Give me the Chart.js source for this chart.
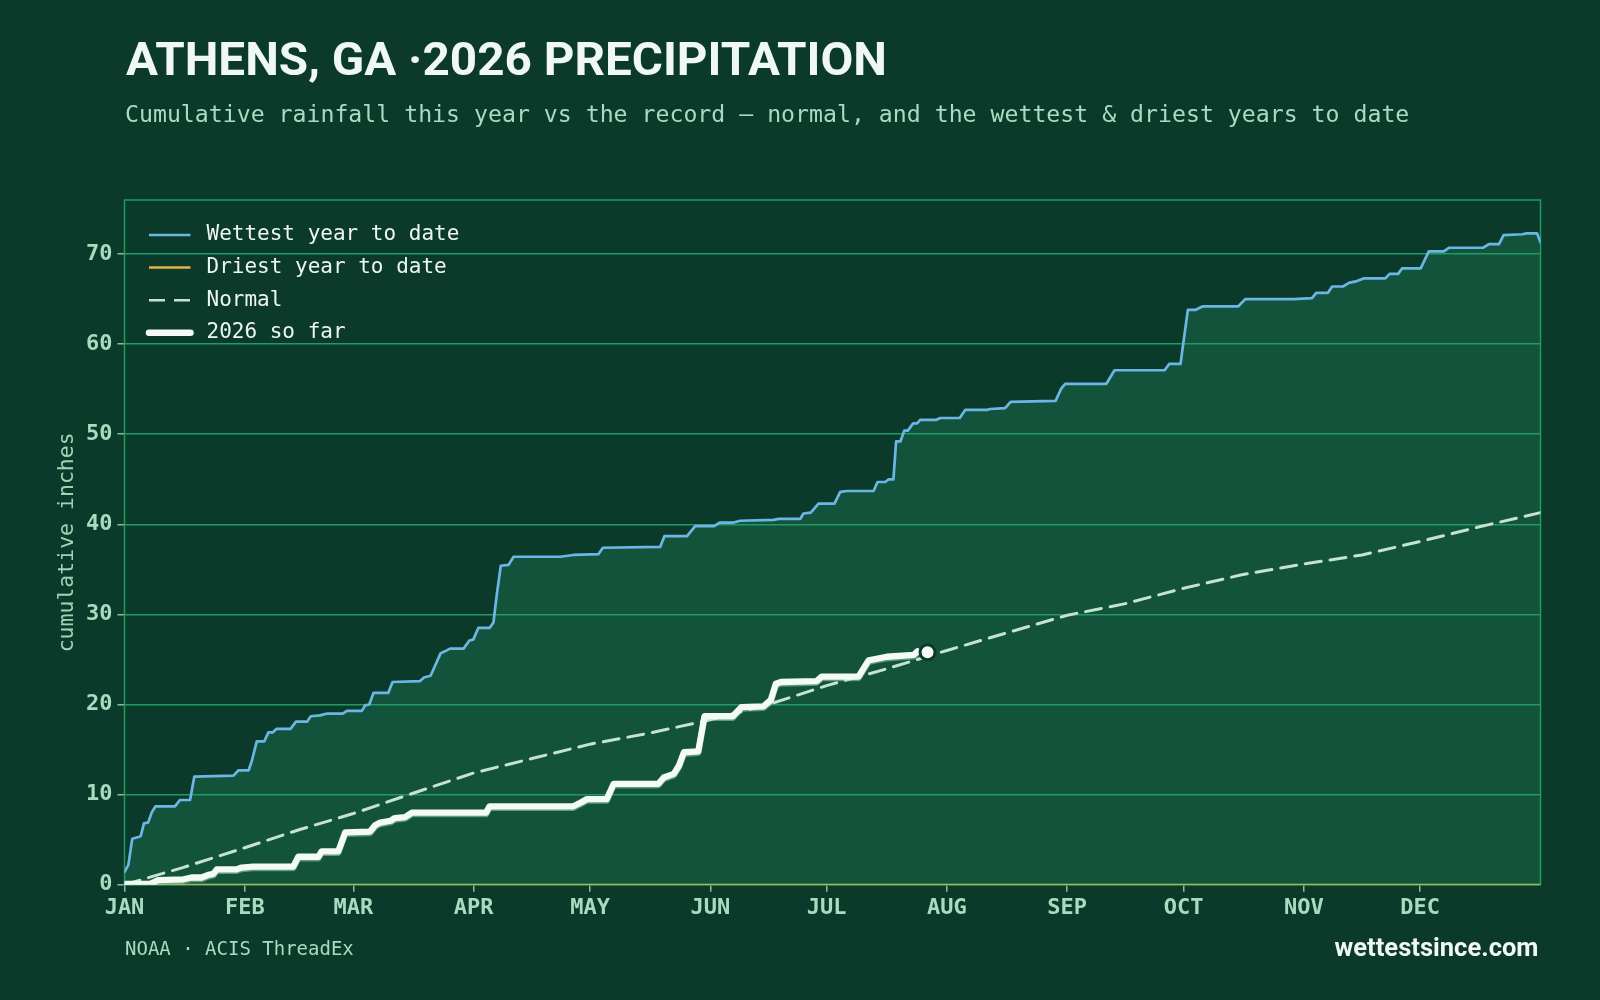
<!DOCTYPE html>
<html>
<head>
<meta charset="utf-8">
<title>Athens, GA 2026 precipitation</title>
<script src="https://cdn.jsdelivr.net/npm/chart.js@4.4.1/dist/chart.umd.min.js"></script>
<style>
  html, body { margin: 0; padding: 0; background: #0c3a2a; }
  #wrap { position: relative; width: 1600px; height: 1000px; }
</style>
</head>
<body>
<div id="wrap"><canvas id="chart" width="1600" height="1000"></canvas></div>

<script>
// ---- data (day of year from Jan 1, cumulative inches) ----
var monthStartDays = [0, 31, 59, 90, 120, 151, 181, 212, 243, 273, 304, 334];
var monthLabels = ["JAN", "FEB", "MAR", "APR", "MAY", "JUN", "JUL", "AUG", "SEP", "OCT", "NOV", "DEC"];

var wettestDays = [0, 1, 2, 3.6, 4.2, 5, 6.1, 7, 8, 13, 14.3, 16.9, 18, 28.1, 29.4, 32, 32.8, 34.1, 36, 37.1,
  38.2, 39.2, 42.8, 44.2, 47.1, 48, 50.4, 52.3, 56.3, 57.3, 61.2, 62, 63.1, 64.2, 68, 69.1, 76.2, 77.2, 78.9,
  81.5, 82.6, 83.9, 87.4, 88.9, 89.9, 91.2, 94.1, 95.1, 96, 97, 99, 100.3, 112.3, 115.7, 122.2, 123.3, 138.1,
  139.2, 145, 147.1, 152, 153.4, 157, 158.7, 167.3, 168.6, 174.2, 175, 176.9, 178.9, 183, 184.5, 186.2, 193.1,
  194.1, 196.1, 197, 198.2, 198.9, 200, 201, 201.9, 203.3, 204.3, 205.1, 209.3, 210.3, 215.3, 216.7, 222.3,
  223.2, 227, 228.4, 240, 241.5, 242.5, 253.1, 255.2, 268.1, 269.3, 272.2, 274.1, 276, 278, 287.1, 288.9,
  301.4, 306.1, 307.2, 310.2, 311.3, 314.1, 315.6, 317.7, 319.4, 325, 326.1, 328.3, 329.3, 334.1, 336.2,
  340.1, 341.4, 350.2, 351.7, 354.3, 355.5, 360.3, 361.4, 364.1, 365];
var wettestInches = [1.4, 2.2, 5.1, 5.3, 5.4, 6.8, 6.9, 8.0, 8.7, 8.7, 9.4, 9.4, 12.0, 12.1, 12.7, 12.7, 13.7, 15.9, 15.9, 16.9,
  16.9, 17.3, 17.3, 18.1, 18.1, 18.7, 18.8, 19.0, 19.0, 19.3, 19.3, 19.9, 20.0, 21.3, 21.3, 22.5, 22.6, 23.0, 23.2,
  25.7, 25.9, 26.2, 26.2, 27.1, 27.2, 28.5, 28.5, 29.1, 32.3, 35.4, 35.5, 36.4, 36.4, 36.6, 36.7, 37.4, 37.5,
  38.7, 38.7, 39.8, 39.8, 40.2, 40.2, 40.4, 40.5, 40.6, 40.6, 41.2, 41.3, 42.3, 42.3, 43.6, 43.7, 43.7,
  44.7, 44.7, 45.0, 45.0, 49.2, 49.2, 50.4, 50.4, 51.2, 51.2, 51.6, 51.6, 51.8, 51.8, 52.7, 52.7,
  52.8, 52.9, 53.6, 53.7, 55.1, 55.6, 55.6, 57.1, 57.1, 57.8, 57.8, 63.8, 63.8, 64.2, 64.2, 65.0,
  65.0, 65.1, 65.7, 65.7, 66.4, 66.4, 66.8, 67.0, 67.3, 67.3, 67.8, 67.8, 68.4, 68.4, 70.3,
  70.3, 70.7, 70.7, 71.1, 71.1, 72.1, 72.2, 72.3, 72.3, 71.3];

var driestDays = [0, 365];
var driestInches = [0, 0];

var normalDays = [0, 15, 31, 45, 59, 74, 90, 105, 120, 135, 151, 166, 181, 196, 212, 227, 243, 258, 273, 288, 304, 319, 334, 349, 365];
var normalInches = [0, 1.9, 4.1, 6.1, 7.9, 10.1, 12.4, 14.0, 15.6, 16.8, 18.3, 20.0, 22.1, 23.9, 26.0, 27.9, 29.9, 31.2, 32.9, 34.4, 35.6, 36.6, 38.1, 39.7, 41.3];

var y2026Days = [0, 6.6, 8.7, 15.2, 17.3, 19.9, 21.6, 22.9, 23.8, 28.9, 30.2, 33.2, 43.5, 44.8, 50, 50.8, 55.1, 56.9,
  63.3, 64.6, 65.9, 68.6, 69.7, 72.3, 74.1, 93.2, 94.1, 115.7, 117.5, 119.2, 124.3, 126.1, 137.6, 139, 141.6,
  142.9, 144.2, 147.9, 149.5, 156.8, 159, 164.7, 166.6, 167.9, 169.2, 178.4, 179.7, 189.2, 191.8, 196.5, 203.4, 204.4];
var y2026Inches = [0.1, 0.1, 0.5, 0.6, 0.8, 0.8, 1.1, 1.2, 1.7, 1.7, 1.9, 2.0, 2.0, 3.1, 3.1, 3.7, 3.7, 5.8,
  5.9, 6.6, 6.9, 7.1, 7.4, 7.5, 8.0, 8.0, 8.7, 8.7, 9.1, 9.5, 9.5, 11.2, 11.2, 11.9, 12.3,
  13.2, 14.7, 14.8, 18.7, 18.7, 19.7, 19.8, 20.5, 22.3, 22.5, 22.6, 23.1, 23.1, 24.9, 25.3, 25.5, 25.9];

var todayDay = [207];
var todayInches = [25.8];

// ---- styles ----
var bgColor = "#0c3a2a";
var fillColor = "#13533c";
var gridColor = "#1e9c63";
var tickTextColor = "#a8dcc0";
var tickMarkColor = "#86bfa0";
var monoFont = "'DejaVu Sans Mono', monospace";

function toPoints(xs, ys) {
  return xs.map(function (x, i) { return { x: x, y: ys[i] }; });
}

function fitText(ctx, text, x, y, font, color, width, align) {
  ctx.save();
  ctx.font = font;
  ctx.fillStyle = color;
  ctx.textBaseline = "alphabetic";
  ctx.textAlign = align;
  var s = width ? width / ctx.measureText(text).width : 1;
  ctx.translate(x, y);
  ctx.scale(s, 1);
  ctx.fillText(text, 0, 0);
  ctx.restore();
}

// plot frame (drawn under the data lines)
var framePlugin = {
  id: "frame",
  beforeDatasetsDraw: function (chart) {
    var a = chart.chartArea, ctx = chart.ctx;
    ctx.save();
    ctx.strokeStyle = gridColor;
    ctx.lineWidth = 1.5;
    ctx.strokeRect(a.left, a.top, a.right - a.left, a.bottom - a.top);
    ctx.restore();
  }
};

// soft edge under the 2026 line
var glowPlugin = {
  id: "glow",
  beforeDatasetDraw: function (chart, args) {
    if (args.index !== 3) return;
    chart.ctx.save();
    chart.ctx.shadowColor = "rgba(170,225,195,0.5)";
    chart.ctx.shadowOffsetY = 1.5;
  },
  afterDatasetDraw: function (chart, args) {
    if (args.index !== 3) return;
    chart.ctx.restore();
  }
};

// legend inside the plot, top-left
var legendPlugin = {
  id: "insideLegend",
  afterDraw: function (chart) {
    var a = chart.chartArea, ctx = chart.ctx;
    ctx.save();
    ctx.font = "21px " + monoFont;
    ctx.textBaseline = "middle";
    for (var i = 0; i < 4; i++) {
      var ds = chart.data.datasets[i];
      var y = a.top + 35 + i * 32.6;
      ctx.beginPath();
      ctx.strokeStyle = ds.borderColor;
      ctx.lineWidth = i === 3 ? 6.5 : 2.5;
      ctx.lineCap = i === 3 ? "round" : "butt";
      ctx.setLineDash(ds.borderDash || []);
      ctx.moveTo(a.left + 24.5, y);
      ctx.lineTo(a.left + 66, y);
      ctx.stroke();
      ctx.setLineDash([]);
      ctx.fillStyle = "#eef6f1";
      ctx.fillText(ds.label, a.left + 82, y);
    }
    ctx.restore();
  }
};

// title, subtitle, axis title and footer
var textPlugin = {
  id: "pageText",
  afterDraw: function (chart) {
    var a = chart.chartArea, ctx = chart.ctx;
    fitText(ctx, "ATHENS, GA ·2026 PRECIPITATION", 126, 75, "700 46px Roboto", "#f0f8f3", 761, "left");
    fitText(ctx, "Cumulative rainfall this year vs the record — normal, and the wettest & driest years to date",
      125, 121.5, "23.2px " + monoFont, tickTextColor, 0, "left");
    fitText(ctx, "NOAA · ACIS ThreadEx", 125, 955, "19px " + monoFont, tickTextColor, 0, "left");
    fitText(ctx, "wettestsince.com", 1538.5, 956, "700 25px Roboto", "#f0f8f3", 204, "right");

    ctx.save();
    ctx.translate(67.5, (a.top + a.bottom) / 2);
    ctx.rotate(-Math.PI / 2);
    ctx.font = "21.5px " + monoFont;
    ctx.fillStyle = "#9ed4b6";
    ctx.textAlign = "center";
    ctx.textBaseline = "middle";
    ctx.fillText("cumulative inches", 0, 0);
    ctx.restore();
  }
};

var config = {
  type: "line",
  data: {
    datasets: [
      {
        label: "Wettest year to date",
        data: toPoints(wettestDays, wettestInches),
        borderColor: "#6cb6e6",
        borderWidth: 2.7,
        backgroundColor: fillColor,
        fill: "origin",
        order: 3
      },
      {
        label: "Driest year to date",
        data: toPoints(driestDays, driestInches),
        borderColor: "#e3b547",
        borderWidth: 2,
        fill: false,
        order: 4
      },
      {
        label: "Normal",
        data: toPoints(normalDays, normalInches),
        borderColor: "#c5e3cf",
        borderWidth: 3,
        borderDash: [16, 9],
        fill: false,
        order: 2
      },
      {
        label: "2026 so far",
        data: toPoints(y2026Days, y2026Inches),
        borderColor: "#f4faf6",
        borderWidth: 6.3,
        fill: false,
        order: 1
      },
      {
        label: "today",
        data: toPoints(todayDay, todayInches),
        showLine: false,
        pointRadius: 7.5,
        pointBackgroundColor: "#f4faf6",
        pointBorderColor: bgColor,
        pointBorderWidth: 3,
        order: 0
      }
    ]
  },
  options: {
    responsive: false,
    animation: false,
    devicePixelRatio: 1,
    layout: { padding: { left: 0, top: 200, right: 59.5, bottom: 75.3 } },
    plugins: {
      legend: { display: false },
      tooltip: { enabled: false },
      filler: { drawTime: "beforeDraw" }
    },
    elements: {
      point: { radius: 0 },
      line: { tension: 0, borderJoinStyle: "round", borderCapStyle: "round" }
    },
    scales: {
      x: {
        type: "linear",
        min: 0,
        max: 365,
        border: { display: false },
        afterBuildTicks: function (s) {
          s.ticks = monthStartDays.map(function (v) { return { value: v }; });
        },
        afterFit: function (s) { s.height = 40; },
        grid: { drawOnChartArea: false, tickLength: 7, tickColor: tickMarkColor, lineWidth: 1.5 },
        ticks: {
          autoSkip: false,
          maxRotation: 0,
          padding: 3,
          color: tickTextColor,
          font: { family: monoFont, size: 22, weight: "bold" },
          callback: function (v) { return monthLabels[monthStartDays.indexOf(v)]; }
        }
      },
      y: {
        min: 0,
        max: 76,
        border: { display: false },
        afterFit: function (s) { s.width = 124.5; },
        grid: { color: gridColor, lineWidth: 1.5, tickLength: 7, tickColor: tickMarkColor },
        ticks: {
          stepSize: 10,
          includeBounds: false,
          padding: 5,
          color: tickTextColor,
          font: { family: monoFont, size: 22, weight: "bold" }
        }
      }
    }
  },
  plugins: [framePlugin, glowPlugin, legendPlugin, textPlugin]
};

window.myChart = new Chart(document.getElementById("chart").getContext("2d"), config);
</script>
</body>
</html>
